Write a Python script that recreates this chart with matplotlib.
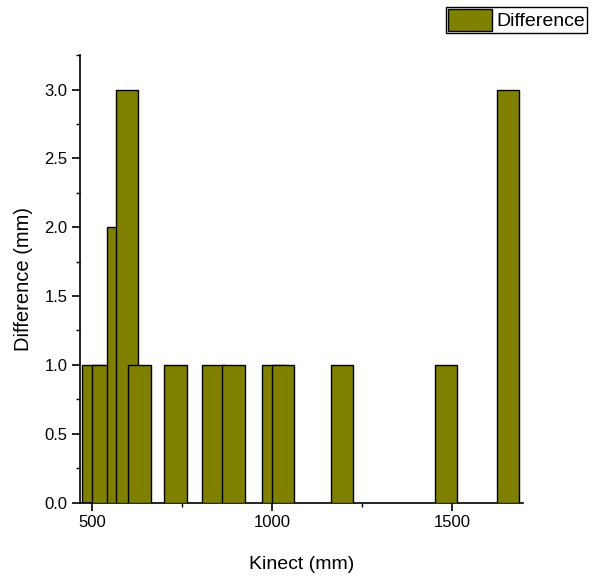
import matplotlib
matplotlib.use("Agg")
import matplotlib.pyplot as plt
from matplotlib.ticker import MultipleLocator

plt.rcParams['font.family'] = ['Liberation Sans', 'DejaVu Sans']

kinect_mm = [504, 532, 573, 598, 632, 732, 838, 893, 1005, 1031, 1195, 1483, 1656]
difference_mm = [1, 1, 2, 3, 1, 1, 1, 1, 1, 1, 1, 1, 3]
bar_width = 62
series_label = "Difference"
x_label = "Kinect (mm)"
y_label = "Difference (mm)"

fig = plt.figure(figsize=(5.95, 5.78), dpi=100)
ax = fig.add_axes([0.1345, 0.1306, 0.744, 0.774])

for i, (x, y) in enumerate(zip(kinect_mm, difference_mm)):
    ax.bar(x, y, width=bar_width, color='#808000', edgecolor='black',
           linewidth=1.0, label=series_label if i == 0 else None, zorder=2 + i)

ax.set_xlim(467, 1697)
ax.set_ylim(0, 3.25)
ax.xaxis.set_major_locator(MultipleLocator(500))
ax.xaxis.set_minor_locator(MultipleLocator(250))
ax.yaxis.set_major_locator(MultipleLocator(0.5))
ax.yaxis.set_minor_locator(MultipleLocator(0.25))
ax.yaxis.set_major_formatter(matplotlib.ticker.FormatStrFormatter('%.1f'))

for s in ['top', 'right']:
    ax.spines[s].set_visible(False)
for s in ['left', 'bottom']:
    ax.spines[s].set_linewidth(1.2)

ax.tick_params(axis='both', which='major', direction='out', length=6, width=1.2, labelsize=12, pad=3)
ax.tick_params(axis='both', which='minor', direction='out', length=3, width=1.0)

ax.set_xlabel(x_label, fontsize=14, labelpad=19)
ax.set_ylabel(y_label, fontsize=14.5, labelpad=8)

leg = fig.legend(loc='upper right', bbox_to_anchor=(0.9866, 0.9879), fontsize=14,
                 frameon=True, fancybox=False, edgecolor='black', framealpha=1,
                 handlelength=2.27, handleheight=1.3, handletextpad=0.2,
                 borderpad=0.12, borderaxespad=0)
leg.get_frame().set_linewidth(1.0)

fig.savefig('out.png', dpi=100)
